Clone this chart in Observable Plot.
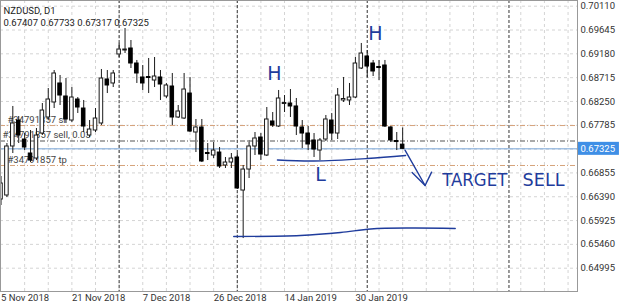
<!DOCTYPE html>
<html><head><meta charset="utf-8">
<script src="https://cdn.jsdelivr.net/npm/d3@7"></script>
<script src="https://cdn.jsdelivr.net/npm/@observablehq/plot@0.6"></script>
<style>body{margin:0;background:#fff}svg{display:block}</style>
</head><body><div id="chart"></div>
<script>
// ---- data (NZDUSD D1, bar index 0 = 5 Nov 2018) ----
const opens  = [0.66336,0.66414,0.67371,0.67878,0.67507,0.67234,0.67136,0.67624,0.67937,0.68230,0.68601,0.68347,0.67878,0.68288,0.68112,0.67585,0.67683,0.67820,0.68679,0.68601,0.69167,0.69245,0.69284,0.68991,0.68718,0.68727,0.68659,0.68718,0.68347,0.68542,0.67937,0.67917,0.68405,0.67644,0.67742,0.67244,0.67195,0.67253,0.67000,0.67058,0.67156,0.66511,0.66921,0.67371,0.67546,0.67195,0.67859,0.67761,0.68200,0.68210,0.68152,0.67742,0.67624,0.67488,0.67292,0.67507,0.67878,0.67624,0.68269,0.68269,0.68327,0.68893,0.69128,0.68991,0.68923,0.68952,0.67742,0.67478,0.67407];
const highs  = [0.66785,0.67429,0.68152,0.67956,0.67624,0.67683,0.67722,0.68210,0.68503,0.68854,0.68757,0.68698,0.68522,0.68327,0.68269,0.67878,0.68112,0.68874,0.68854,0.68854,0.69382,0.69674,0.69440,0.69050,0.68952,0.69089,0.69108,0.68854,0.68601,0.68796,0.68171,0.68796,0.68718,0.67898,0.67898,0.67429,0.67449,0.67351,0.67156,0.67234,0.67234,0.67000,0.67488,0.67644,0.67624,0.68132,0.68034,0.68464,0.68366,0.68483,0.68308,0.67878,0.67761,0.67624,0.67527,0.67976,0.68015,0.68503,0.68718,0.68601,0.69108,0.69382,0.69245,0.69050,0.69050,0.69050,0.67761,0.67644,0.67733];
const lows   = [0.66219,0.66375,0.67234,0.67429,0.67292,0.67058,0.67097,0.67585,0.67878,0.68112,0.68171,0.67820,0.67839,0.68015,0.67644,0.67546,0.67644,0.67781,0.68405,0.68522,0.69108,0.69186,0.68893,0.68601,0.68464,0.68405,0.68522,0.68269,0.68308,0.67781,0.67917,0.67898,0.67644,0.67253,0.67058,0.67097,0.67136,0.66941,0.66941,0.66941,0.66531,0.65574,0.66746,0.67195,0.67097,0.67175,0.67742,0.67742,0.68034,0.67937,0.67585,0.67331,0.67292,0.67156,0.67097,0.67468,0.67488,0.67507,0.68230,0.68171,0.68308,0.68874,0.68718,0.68737,0.68659,0.67742,0.67449,0.67292,0.67317];
const closes = [0.66648,0.67371,0.67820,0.67585,0.67351,0.67097,0.67585,0.68073,0.68288,0.68796,0.68366,0.67898,0.68327,0.68132,0.67761,0.67702,0.67917,0.68698,0.68562,0.68796,0.69264,0.69264,0.68991,0.68796,0.68601,0.68708,0.68737,0.68581,0.68562,0.67937,0.68054,0.68483,0.67663,0.67742,0.67078,0.67224,0.67292,0.66980,0.67058,0.67136,0.66551,0.66921,0.67371,0.67527,0.67214,0.67898,0.67781,0.68308,0.68220,0.68152,0.67761,0.67624,0.67410,0.67312,0.67488,0.67898,0.67624,0.68366,0.68298,0.68327,0.68991,0.69186,0.68932,0.68835,0.68903,0.67761,0.67488,0.67458,0.67325];

const dateTickIdx = [0, 12, 24, 36, 48, 60];
const dateTickLabels = ["5 Nov 2018", "21 Nov 2018", "7 Dec 2018", "26 Dec 2018", "14 Jan 2019", "30 Jan 2019"];
const priceGrid = [0.70110,0.69645,0.69180,0.68715,0.68250,0.67785,0.67320,0.66855,0.66390,0.65925,0.65460,0.64995];
const priceLabels = [0.70110,0.69645,0.69180,0.68715,0.68250,0.67785,0.66855,0.66390,0.65925,0.65460,0.64995];
const gridIdx = d3.range(4, 97, 4);
const separatorIdx = [20, 40, 62, 86];

const slPrice = 0.67780, sellPrice = 0.67478, bidPrice = 0.67325, tpPrice = 0.67000;
const orderLabels = [
  {p: slPrice, t: "#34791857 sl", dx: 7},
  {p: sellPrice, t: "#34791857 sell, 0.03", dx: 2},
  {p: tpPrice, t: "#34791857 tp", dx: 7}
];
const titleText = "NZDUSD, D1";
const ohlcText = "0.67407 0.67733 0.67317 0.67325";

// hand-drawn annotations (bar index, price)
const supportLine = [{i:46.8,p:0.67107},{i:53.0,p:0.67087},{i:62.0,p:0.67136},{i:68.5,p:0.67195}];
const lowLine = [{i:39.4,p:0.65613},{i:50.7,p:0.65633},{i:57.5,p:0.65691},{i:62.6,p:0.65760},{i:69.3,p:0.65779},{i:76.9,p:0.65770}];
const arrowShaft = [{i:68.4,p:0.67300},{i:71.8,p:0.66609}];
const arrowHead = [{i:69.6,p:0.66863},{i:71.8,p:0.66609},{i:72.9,p:0.66870}];
const handNotes = [
  {i:46.3, p:0.68796, t:"H"},
  {i:63.4, p:0.69577, t:"H"},
  {i:54.1, p:0.66824, t:"L"}
];
const targetNotes = [
  {i:74.7, p:0.66717, t:"TARGET", len:65},
  {i:88.3, p:0.66717, t:"SELL", len:42}
];

const candles = opens.map((o, i) => ({i, o, h: highs[i], l: lows[i], c: closes[i]}));
const up = candles.filter(d => d.c >= d.o);
const down = candles.filter(d => d.c < d.o);

const xDomain = [-0.085, 97.6];
const yDomain = [0.64540, 0.70221];
const ink = "#1f3c9c";
const dashDot = "5,2,1,2";
const FONT = "Roboto, sans-serif";

// bid price tag sits just right of the frame (width ~7 bars, height ~0.00254)
const bidTag = [{x1: xDomain[1] + 0.17, x2: xDomain[1] + 7.1, y1: bidPrice - 0.00127, y2: bidPrice + 0.00127}];

const chart = Plot.plot({
  width: 625, height: 304,
  marginLeft: 0, marginRight: 48, marginTop: 0, marginBottom: 13,
  x: {type: "linear", domain: xDomain, axis: null},
  y: {domain: yDomain, axis: null},
  style: {fontFamily: FONT, fontSize: "9.5px", background: "#fff", overflow: "visible"},
  marks: [
    Plot.ruleY(priceGrid, {y: d => d, stroke: "#d4d4d4", strokeDasharray: "3,3"}),
    Plot.ruleX(gridIdx, {x: d => d, stroke: "#d4d4d4", strokeDasharray: "3,3"}),
    Plot.ruleX(separatorIdx, {x: d => d, stroke: "#333", strokeDasharray: "3,2"}),
    Plot.ruleY([slPrice, tpPrice], {y: d => d, stroke: "#d6a37b", strokeDasharray: dashDot}),
    Plot.ruleY([sellPrice], {y: d => d, stroke: "#555", strokeDasharray: dashDot}),
    Plot.ruleY([bidPrice], {y: d => d, stroke: "#76a3d6"}),
    Plot.text(orderLabels, {y: "p", text: "t", frameAnchor: "left", dx: 2, dy: -6, textAnchor: "start", fill: "#444", fontSize: 9.5}),
    Plot.ruleX(candles, {x: "i", y1: "l", y2: "h", stroke: "#1a1a1a"}),
    Plot.rect(up, {x1: d => d.i - 0.3, x2: d => d.i + 0.3, y1: "o", y2: "c", fill: "#fff", stroke: "#1a1a1a"}),
    Plot.rect(down, {x1: d => d.i - 0.3, x2: d => d.i + 0.3, y1: "o", y2: "c", fill: "#000", stroke: "#000"}),
    Plot.line(supportLine, {x: "i", y: "p", stroke: ink, strokeWidth: 1.4, curve: "catmull-rom"}),
    Plot.line(lowLine, {x: "i", y: "p", stroke: ink, strokeWidth: 1.4, curve: "catmull-rom"}),
    Plot.line(arrowShaft, {x: "i", y: "p", stroke: ink, strokeWidth: 1.4}),
    Plot.line(arrowHead, {x: "i", y: "p", stroke: ink, strokeWidth: 1.4}),
    Plot.text(handNotes, {x: "i", y: "p", text: "t", fill: ink, fontSize: 19, fontFamily: "'DejaVu Sans', sans-serif"}),
    Plot.text(targetNotes, {x: "i", y: "p", text: "t", fill: ink, fontSize: 18, textAnchor: "start", fontFamily: "'DejaVu Sans', sans-serif", className: "target-note"}),
    Plot.text(priceLabels, {y: d => d, text: d => d.toFixed(5), frameAnchor: "right", dx: 3, textAnchor: "start", fill: "#333"}),
    Plot.rect(bidTag, {x1: "x1", x2: "x2", y1: "y1", y2: "y2", fill: "#3f8fe6"}),
    Plot.text([bidPrice], {y: d => d, text: d => d.toFixed(5), frameAnchor: "right", dx: 3, textAnchor: "start", fill: "#fff"}),
    Plot.text(dateTickIdx, {x: d => d, text: (d, k) => dateTickLabels[k], frameAnchor: "bottom", dy: 6, textAnchor: "start", lineAnchor: "middle", fill: "#333"}),
    Plot.text([titleText], {frameAnchor: "top-left", dx: 3, dy: 10, textAnchor: "start", lineAnchor: "middle", fill: "#222"}),
    Plot.text([ohlcText], {frameAnchor: "top-left", dx: 3, dy: 22, textAnchor: "start", lineAnchor: "middle", fill: "#222"}),
    Plot.frame({stroke: "#999"})
  ]
});

// per-row offsets of the order labels and fitted width of the handwritten words
d3.select(chart).selectAll("text").filter(function() { return this.textContent.startsWith("#34791857"); })
  .each(function() {
    const row = orderLabels.find(r => r.t === this.textContent);
    if (row && row.dx !== 2) {
      const t = d3.select(this).attr("transform") || "";
      d3.select(this).attr("transform", t + ` translate(${row.dx - 2},0)`);
    }
  });
d3.select(chart).selectAll(".target-note text").each(function(_, k) {
  d3.select(this).attr("textLength", targetNotes[k].len).attr("lengthAdjust", "spacingAndGlyphs");
});
document.getElementById("chart").append(chart);
</script></body></html>
